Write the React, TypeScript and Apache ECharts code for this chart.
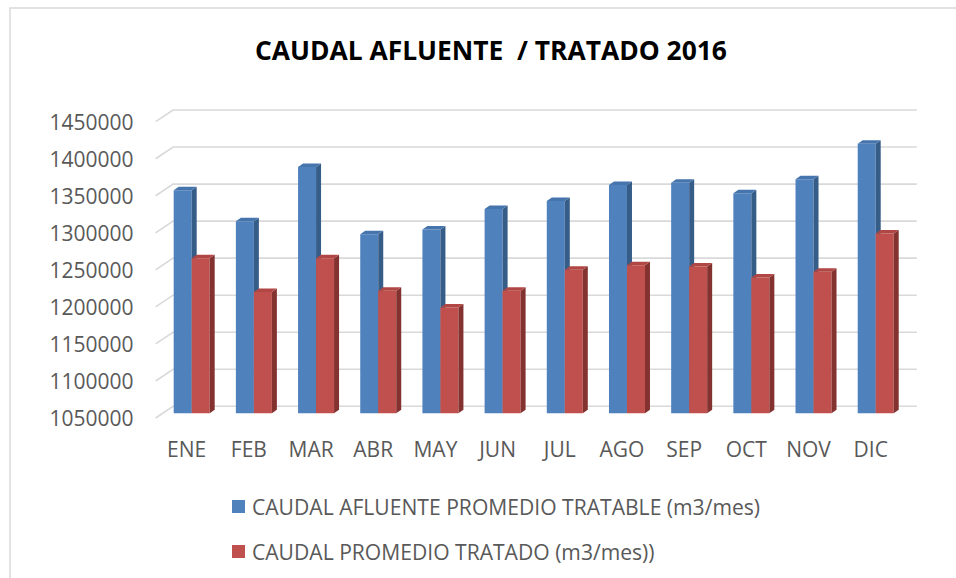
import React, { useEffect, useRef } from "react";
import * as echarts from "echarts";

const categories = ["ENE", "FEB", "MAR", "ABR", "MAY", "JUN", "JUL", "AGO", "SEP", "OCT", "NOV", "DIC"];
const afluente = [1351000, 1309300, 1382500, 1291800, 1298000, 1325900, 1336700, 1358200, 1361300, 1347000, 1365900, 1413900];
const tratado = [1259400, 1213600, 1259400, 1215400, 1192900, 1215400, 1243700, 1250000, 1248100, 1233300, 1241000, 1292600];
const yTicks = [1050000, 1100000, 1150000, 1200000, 1250000, 1300000, 1350000, 1400000, 1450000];
const seriesNames = [
  "CAUDAL AFLUENTE PROMEDIO TRATABLE (m3/mes)",
  "CAUDAL PROMEDIO TRATADO (m3/mes))",
];
const titleText = "CAUDAL AFLUENTE  / TRATADO 2016";

const Y_MIN = 1050000;
const Y_MAX = 1450000;
const FONT = "'Open Sans', 'Liberation Sans', sans-serif";
const GRAY = "#595959";

const BACK_DX = 17.5;
const BACK_DY = 11.7;
const BAR_W = 18;
const DEPTH_DX = 5;
const DEPTH_DY = 3.5;
const BAR_SHIFT_Y = 4.7;

function makeBarRenderer(offset: number, front: string, side: string, topC: string) {
  return (params: any, api: any) => {
    const i = api.value(0);
    const v = api.value(1);
    const c = api.coord([i, v]);
    const b = api.coord([i, Y_MIN]);
    const L = c[0] + offset;
    const top = c[1] - BAR_SHIFT_Y;
    const base = b[1] - BAR_SHIFT_Y;
    const R = L + BAR_W;
    return {
      type: "group",
      children: [
        {
          type: "rect",
          shape: { x: L, y: top, width: BAR_W, height: base - top },
          style: { fill: front },
        },
        {
          type: "polygon",
          shape: {
            points: [
              [R, top],
              [R + DEPTH_DX, top - DEPTH_DY],
              [R + DEPTH_DX, base - DEPTH_DY],
              [R, base],
            ],
          },
          style: { fill: side },
        },
        {
          type: "polygon",
          shape: {
            points: [
              [L, top],
              [L + DEPTH_DX, top - DEPTH_DY],
              [R + DEPTH_DX, top - DEPTH_DY],
              [R, top],
            ],
          },
          style: { fill: topC },
        },
      ],
    };
  };
}

export default function App() {
  const ref = useRef<HTMLDivElement>(null);
  useEffect(() => {
    if (!ref.current) return;
    const chart = echarts.init(ref.current, undefined, { renderer: "svg" });
    chart.setOption({
      animation: false,
      backgroundColor: "#ffffff",
      title: {
        text: titleText,
        left: 255,
        top: 37,
        padding: 0,
        textStyle: { fontFamily: FONT, fontWeight: "bold", fontSize: 26.4, color: "#000000" },
      },
      graphic: [
        {
          type: "rect",
          shape: { x: 10, y: 8, width: 1000, height: 700 },
          style: { fill: "none", stroke: "#d9d9d9", lineWidth: 1.5 },
          silent: true,
        },
      ],
      legend: {
        data: seriesNames,
        orient: "vertical",
        left: 232,
        top: 496,
        padding: 0,
        itemWidth: 13,
        itemHeight: 13,
        itemGap: 24,
        icon: "rect",
        textStyle: { fontFamily: FONT, fontSize: 21.1, color: GRAY, lineHeight: 21, padding: [0, 0, 0, 2] },
      },
      grid: { left: 155.6, width: 746.2, top: 121.7, height: 296.3 },
      xAxis: {
        type: "category",
        data: categories,
        axisLine: { show: false },
        axisTick: { show: false },
        axisLabel: { fontFamily: FONT, fontSize: 21, color: GRAY, margin: 20 },
      },
      yAxis: {
        type: "value",
        min: Y_MIN,
        max: Y_MAX,
        interval: 50000,
        splitLine: { show: false },
        axisLine: { show: false },
        axisTick: { show: false },
        axisLabel: {
          fontFamily: FONT,
          fontSize: 21,
          color: GRAY,
          margin: 22,
          formatter: (v: number) => String(v),
        },
      },
      series: [
        {
          name: "grid",
          type: "custom",
          silent: true,
          data: yTicks.map((v) => [0, v]),
          renderItem: (params: any, api: any) => {
            const y = api.coord([0, api.value(1)])[1];
            const cs = params.coordSys;
            return {
              type: "polyline",
              shape: {
                points: [
                  [cs.x, y],
                  [cs.x + BACK_DX, y - BACK_DY],
                  [cs.x + cs.width + 15, y - BACK_DY],
                ],
              },
              style: { stroke: "#d9d9d9", lineWidth: 1.6, fill: "none" },
            };
          },
          z: 1,
        },
        {
          name: seriesNames[0],
          type: "custom",
          itemStyle: { color: "#4F81BD" },
          data: afluente.map((v, i) => [i, v]),
          encode: { x: 0, y: 1 },
          renderItem: makeBarRenderer(-13, "#4F81BD", "#365C88", "#4675AE"),
          z: 2,
        },
        {
          name: seriesNames[1],
          type: "custom",
          itemStyle: { color: "#C0504D" },
          data: tratado.map((v, i) => [i, v]),
          encode: { x: 0, y: 1 },
          renderItem: makeBarRenderer(5, "#C0504D", "#833230", "#B04744"),
          z: 3,
        },
      ],
    });
    return () => chart.dispose();
  }, []);
  return (
    <div
      ref={ref}
      style={{ position: "fixed", left: 0, top: 0, width: 956, height: 578 }}
    />
  );
}
